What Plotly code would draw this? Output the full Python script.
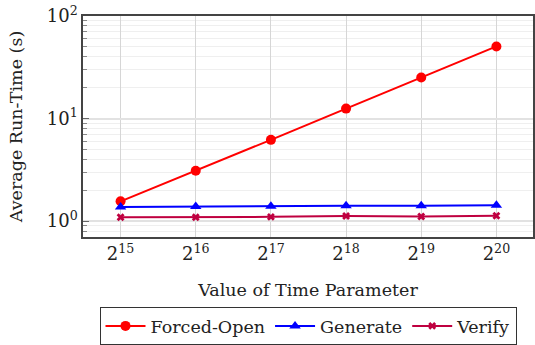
import plotly.graph_objects as go
import numpy as np

exponents = [15, 16, 17, 18, 19, 20]
tick_labels = ["2<sup>15</sup>", "2<sup>16</sup>", "2<sup>17</sup>", "2<sup>18</sup>", "2<sup>19</sup>", "2<sup>20</sup>"]
forced_open = [1.56, 3.1, 6.2, 12.5, 25.1, 50.5]
generate = [1.37, 1.39, 1.40, 1.41, 1.41, 1.43]
verify = [1.09, 1.09, 1.10, 1.12, 1.11, 1.13]

FONT = "DejaVu Serif"

fig = go.Figure()
fig.add_trace(go.Scatter(x=exponents, y=forced_open, name="Forced-Open", mode="lines+markers",
                         line=dict(color="#ff0000", width=2),
                         marker=dict(symbol="circle", size=10, color="#ff0000")))
fig.add_trace(go.Scatter(x=exponents, y=generate, name="Generate", mode="lines+markers",
                         line=dict(color="#0000ff", width=2),
                         marker=dict(symbol="triangle-up", size=10, color="#0000ff")))
fig.add_trace(go.Scatter(x=exponents, y=verify, name="Verify", mode="lines+markers",
                         line=dict(color="#bf0040", width=2),
                         marker=dict(symbol="x", size=7, color="#bf0040")))

minor_vals = [m * 10 ** d for d in (-1, 0, 1) for m in range(2, 10)]

fig.update_layout(
    width=535, height=345,
    margin=dict(l=83, r=0, t=16, b=102),
    paper_bgcolor="white", plot_bgcolor="white",
    font=dict(family=FONT, size=17, color="#222"),
    showlegend=True,
    legend=dict(orientation="h", x=0.5, xanchor="center", y=-0.318, yanchor="top",
                bordercolor="#333", borderwidth=1, font=dict(size=17.5, family=FONT, color="#222"),
                itemwidth=40, tracegroupgap=0),
    xaxis=dict(range=[14.5, 20.487], tickvals=exponents, ticktext=tick_labels,
               showgrid=True, gridcolor="#d6d6d6", gridwidth=1,
               showline=True, linecolor="#444", linewidth=1.5, mirror=True,
               ticks="", zeroline=False, tickfont=dict(size=18),
               title=dict(text="Value of Time Parameter", standoff=20, font=dict(size=17.5))),
    yaxis=dict(type="log", range=[np.log10(0.7), 2],
               tickvals=[1, 10, 100], ticktext=["10<sup>0</sup>", "10<sup>1</sup>", "10<sup>2</sup>"],
               showgrid=True, gridcolor="#e2e2e2", gridwidth=2,
               showline=True, linecolor="#444", linewidth=1.5, mirror=True,
               ticks="inside", ticklen=6, tickcolor="#666", zeroline=False,
               tickfont=dict(size=18),
               minor=dict(tickvals=minor_vals, ticks="inside", ticklen=4, tickcolor="#888",
                          showgrid=True, gridcolor="#efefef", gridwidth=1),
               title=dict(text="Average Run-Time (s)", standoff=20, font=dict(size=17.5))),
)

fig.write_html("out.html")
